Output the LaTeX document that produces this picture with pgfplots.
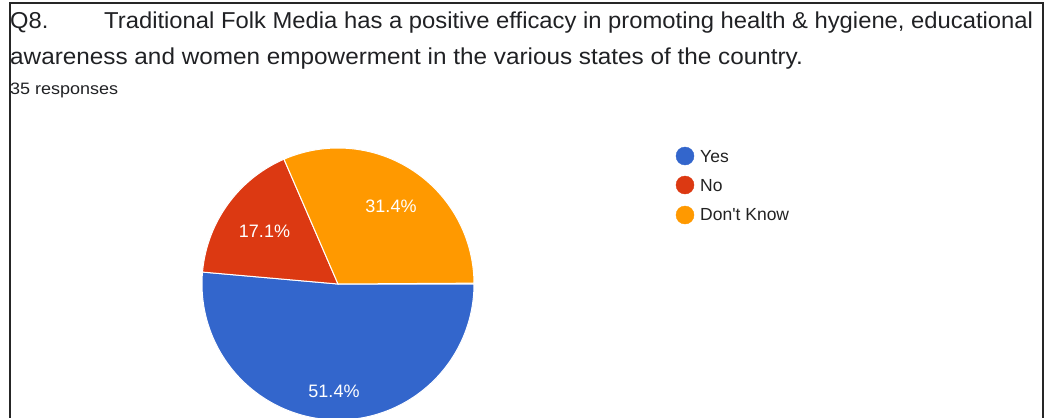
\documentclass[border=0pt]{standalone}
\usepackage{pgfplots}
\pgfplotsset{compat=1.18}
\usepackage{fontspec}
\setmainfont{Liberation Sans}
\definecolor{pieblue}{HTML}{3366CC}
\definecolor{piered}{HTML}{DC3912}
\definecolor{pieorange}{HTML}{FF9900}
\definecolor{titlegray}{HTML}{202124}
\definecolor{leggray}{HTML}{222222}
% shares in percent
\def\valYes{51.4}
\def\valNo{17.1}
\def\valDK{31.4}
\pgfmathsetmacro{\aA}{-3.6*\valYes}
\pgfmathsetmacro{\aB}{\aA-3.6*\valNo}
\pgfmathsetmacro{\aC}{\aB-3.6*\valDK}
\begin{document}
\begin{tikzpicture}
\begin{axis}[
  width=1045pt, height=418pt, scale only axis,
  xmin=0, xmax=1045, ymin=0, ymax=418, y dir=reverse,
  hide axis, clip mode=individual,
]
% pie slices (centre 338,284; radius 136)
\addplot[fill=pieblue, draw=white, line width=1pt, domain=0:\aA, samples=120]
  ({338+136*cos(x)}, {284-136*sin(x)}) -- (axis cs:338,284) -- cycle;
\addplot[fill=piered, draw=white, line width=1pt, domain=\aA:\aB, samples=60]
  ({338+136*cos(x)}, {284-136*sin(x)}) -- (axis cs:338,284) -- cycle;
\addplot[fill=pieorange, draw=white, line width=1pt, domain=\aB:\aC, samples=80]
  ({338+136*cos(x)}, {284-136*sin(x)}) -- (axis cs:338,284) -- cycle;
% legend markers
\addplot[only marks, mark=*, mark size=9pt, color=pieblue] coordinates {(685,156)};
\addplot[only marks, mark=*, mark size=9pt, color=piered] coordinates {(685,185)};
\addplot[only marks, mark=*, mark size=9pt, color=pieorange] coordinates {(685,215)};
% slice labels
\node[anchor=base, inner sep=0pt, text=white, font=\fontsize{18}{20}\selectfont] at (axis cs:334,397) {51.4\%};
\node[anchor=base, inner sep=0pt, text=white, font=\fontsize{18}{20}\selectfont] at (axis cs:264.5,237) {17.1\%};
\node[anchor=base, inner sep=0pt, text=white, font=\fontsize{18}{20}\selectfont] at (axis cs:391,212) {31.4\%};
% legend text
\node[anchor=base west, inner sep=0pt, text=leggray, font=\fontsize{17.5}{20}\selectfont] at (axis cs:700,162.3) {Yes};
\node[anchor=base west, inner sep=0pt, text=leggray, font=\fontsize{17.5}{20}\selectfont] at (axis cs:700,191.7) {No};
\node[anchor=base west, inner sep=0pt, text=leggray, font=\fontsize{17.5}{20}\selectfont] at (axis cs:700,220.7) {Don\textquotesingle t Know};
% title
\node[anchor=base west, inner sep=0pt, text=titlegray, font=\fontsize{23}{28}\selectfont] at (axis cs:10,28.5) {\scalebox{1.03}[1]{Q8.}};
\node[anchor=base west, inner sep=0pt, text=titlegray, font=\fontsize{23}{28}\selectfont] at (axis cs:104,28.5) {\scalebox{1.035}[1]{Traditional Folk Media has a positive efficacy in promoting health \& hygiene, educational}};
\node[anchor=base west, inner sep=0pt, text=titlegray, font=\fontsize{23}{28}\selectfont] at (axis cs:10,64) {\scalebox{1.057}[1]{awareness and women empowerment in the various states of the country.}};
\node[anchor=base west, inner sep=0pt, text=titlegray, font=\fontsize{16.5}{18}\selectfont] at (axis cs:10,94) {\scalebox{1.09}[1]{35 responses}};
% frame
\draw[line width=2pt, color=black!85] (axis cs:9.5,420) -- (axis cs:9.5,2.5) -- (axis cs:1042.5,2.5) -- (axis cs:1042.5,420);
\end{axis}
\pgfresetboundingbox
\path[use as bounding box] (current axis.south west) rectangle (current axis.north east);
\end{tikzpicture}
\end{document}
